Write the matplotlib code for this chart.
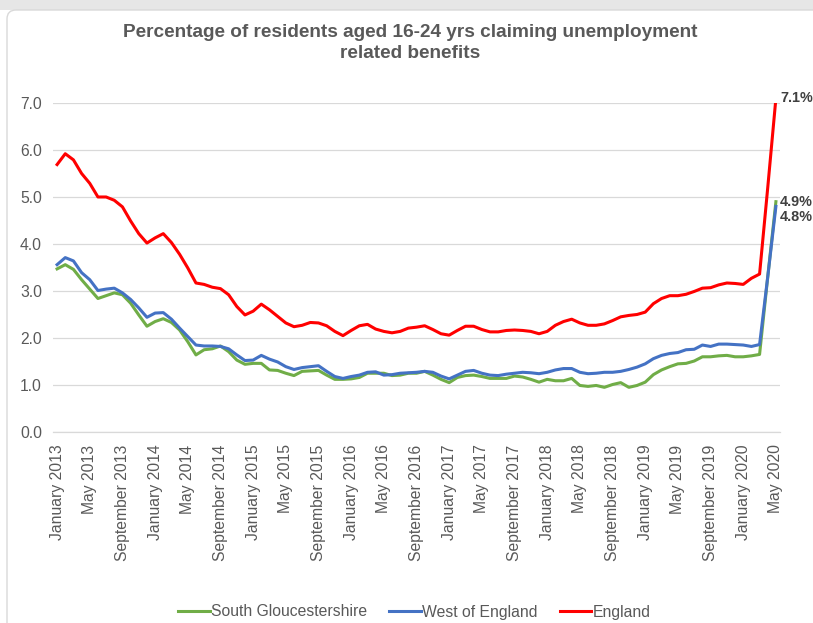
import numpy as np
import pandas as pd
import matplotlib
matplotlib.use("Agg")
import matplotlib.pyplot as plt
from matplotlib.patches import FancyBboxPatch, Rectangle

plt.rcParams['font.family'] = ['Liberation Sans', 'DejaVu Sans']

# monthly claimant rates, 16-24 yrs, Jan 2013 - May 2020
months = pd.date_range("2013-01-01", "2020-05-01", freq="MS")

south_glos = [3.47, 3.56, 3.46, 3.24, 3.04, 2.84, 2.90, 2.96, 2.92, 2.74, 2.49, 2.25,
              2.35, 2.41, 2.33, 2.17, 1.92, 1.64, 1.75, 1.77, 1.83, 1.71, 1.53, 1.44,
              1.46, 1.46, 1.32, 1.31, 1.25, 1.20, 1.29, 1.30, 1.31, 1.21, 1.12, 1.12,
              1.13, 1.16, 1.25, 1.25, 1.25, 1.20, 1.21, 1.25, 1.25, 1.29, 1.21, 1.12,
              1.05, 1.16, 1.20, 1.21, 1.18, 1.14, 1.14, 1.14, 1.19, 1.17, 1.12, 1.06,
              1.12, 1.09, 1.09, 1.14, 0.99, 0.97, 0.99, 0.95, 1.01, 1.05, 0.95, 0.99,
              1.06, 1.22, 1.32, 1.39, 1.45, 1.46, 1.51, 1.60, 1.60, 1.62, 1.63, 1.60,
              1.60, 1.62, 1.65, 3.30, 4.90]

west_of_england = [3.56, 3.71, 3.64, 3.39, 3.24, 3.01, 3.04, 3.06, 2.96, 2.82, 2.64, 2.44,
                   2.53, 2.54, 2.40, 2.21, 2.03, 1.85, 1.83, 1.83, 1.82, 1.77, 1.64, 1.52,
                   1.53, 1.63, 1.55, 1.49, 1.39, 1.33, 1.37, 1.39, 1.41, 1.29, 1.18, 1.14,
                   1.18, 1.21, 1.27, 1.28, 1.21, 1.22, 1.25, 1.26, 1.27, 1.29, 1.27, 1.19,
                   1.13, 1.21, 1.29, 1.31, 1.25, 1.21, 1.20, 1.23, 1.25, 1.27, 1.26, 1.24,
                   1.27, 1.32, 1.35, 1.35, 1.27, 1.24, 1.25, 1.27, 1.27, 1.29, 1.33, 1.38,
                   1.45, 1.56, 1.63, 1.67, 1.69, 1.75, 1.76, 1.85, 1.82, 1.87, 1.87, 1.86,
                   1.85, 1.82, 1.86, 3.30, 4.80]

england = [5.69, 5.92, 5.79, 5.50, 5.29, 5.00, 5.00, 4.93, 4.79, 4.49, 4.22, 4.02,
           4.13, 4.22, 4.03, 3.78, 3.49, 3.17, 3.14, 3.08, 3.05, 2.92, 2.67, 2.49,
           2.57, 2.72, 2.60, 2.46, 2.32, 2.24, 2.27, 2.33, 2.32, 2.26, 2.14, 2.05,
           2.16, 2.26, 2.29, 2.19, 2.14, 2.11, 2.14, 2.21, 2.23, 2.26, 2.18, 2.09,
           2.06, 2.16, 2.25, 2.25, 2.18, 2.13, 2.13, 2.16, 2.17, 2.16, 2.14, 2.09,
           2.14, 2.27, 2.35, 2.40, 2.32, 2.27, 2.27, 2.30, 2.37, 2.45, 2.48, 2.50,
           2.55, 2.73, 2.84, 2.90, 2.90, 2.93, 2.99, 3.06, 3.07, 3.13, 3.17, 3.16,
           3.14, 3.27, 3.36, 5.20, 7.10]

series = [
    ("South Gloucestershire", south_glos, "#70AD47"),
    ("West of England", west_of_england, "#4472C4"),
    ("England", england, "#FF0000"),
]

text_col = "#595959"
grid_col = "#D9D9D9"

fig = plt.figure(figsize=(8.13, 6.23), dpi=100)

# grey strip and rounded chart frame, kept behind the axes
fig.patches.append(Rectangle((0, 6.13), 8.13, 0.1, transform=fig.dpi_scale_trans,
                             facecolor="#E6E6E6", edgecolor="none", zorder=-2))
fig.patches.append(FancyBboxPatch((0.07, -0.5), 8.5, 6.63, boxstyle="round,pad=0,rounding_size=0.09",
                                  transform=fig.dpi_scale_trans, facecolor="white",
                                  edgecolor=grid_col, linewidth=1.0, zorder=-1))

ax = fig.add_axes([0.0652, 0.3066, 0.8942, 0.5281])
ax.set_facecolor("none")
x = np.arange(len(months))

for name, vals, col in series:
    ax.plot(x, vals, color=col, linewidth=2.2, label=name, solid_joinstyle="round")

ax.set_xlim(-0.5, len(months) - 0.5)
ax.set_ylim(0, 7)
ax.set_yticks(np.arange(0, 7.1, 1.0))
ax.set_yticklabels([f"{v:.1f}" for v in np.arange(0, 7.1, 1.0)])
ax.grid(axis="y", color=grid_col, linewidth=0.9)
ax.set_axisbelow(True)

tick_idx = x[::4]
ax.set_xticks(tick_idx)
ax.set_xticklabels([months[i].strftime("%B %Y") for i in tick_idx], rotation=90)
ax.tick_params(axis="both", length=0, colors=text_col, labelsize=11.3)
ax.tick_params(axis="y", pad=8)
ax.tick_params(axis="x", pad=9)
for s in ["top", "right", "left"]:
    ax.spines[s].set_visible(False)
ax.spines["bottom"].set_color(grid_col)
ax.spines["bottom"].set_linewidth(0.9)

# end-point value labels
last = x[-1]
offsets = {"England": 0, "South Gloucestershire": 0, "West of England": -8}
for name, vals, col in series:
    ax.annotate(f"{vals[-1]:.1f}%", (last, vals[-1]), xytext=(3, offsets[name]),
                textcoords="offset points", va="center", ha="left", fontsize=10.4,
                fontweight="bold", color="#404040", annotation_clip=False)

fig.text(0.504, 1 - 43 / 623,
         "Percentage of residents aged 16-24 yrs claiming unemployment\nrelated benefits",
         ha="center", va="center", fontsize=13.7, fontweight="bold", color=text_col,
         linespacing=1.3)

leg = fig.legend(loc="center", bbox_to_anchor=(0.51, 1 - 612 / 623), ncol=3, frameon=False,
                 fontsize=11.3, handlelength=2.0, handletextpad=0.1, columnspacing=1.4)
for t in leg.get_texts():
    t.set_color(text_col)

fig.savefig("out.png", dpi=100)
